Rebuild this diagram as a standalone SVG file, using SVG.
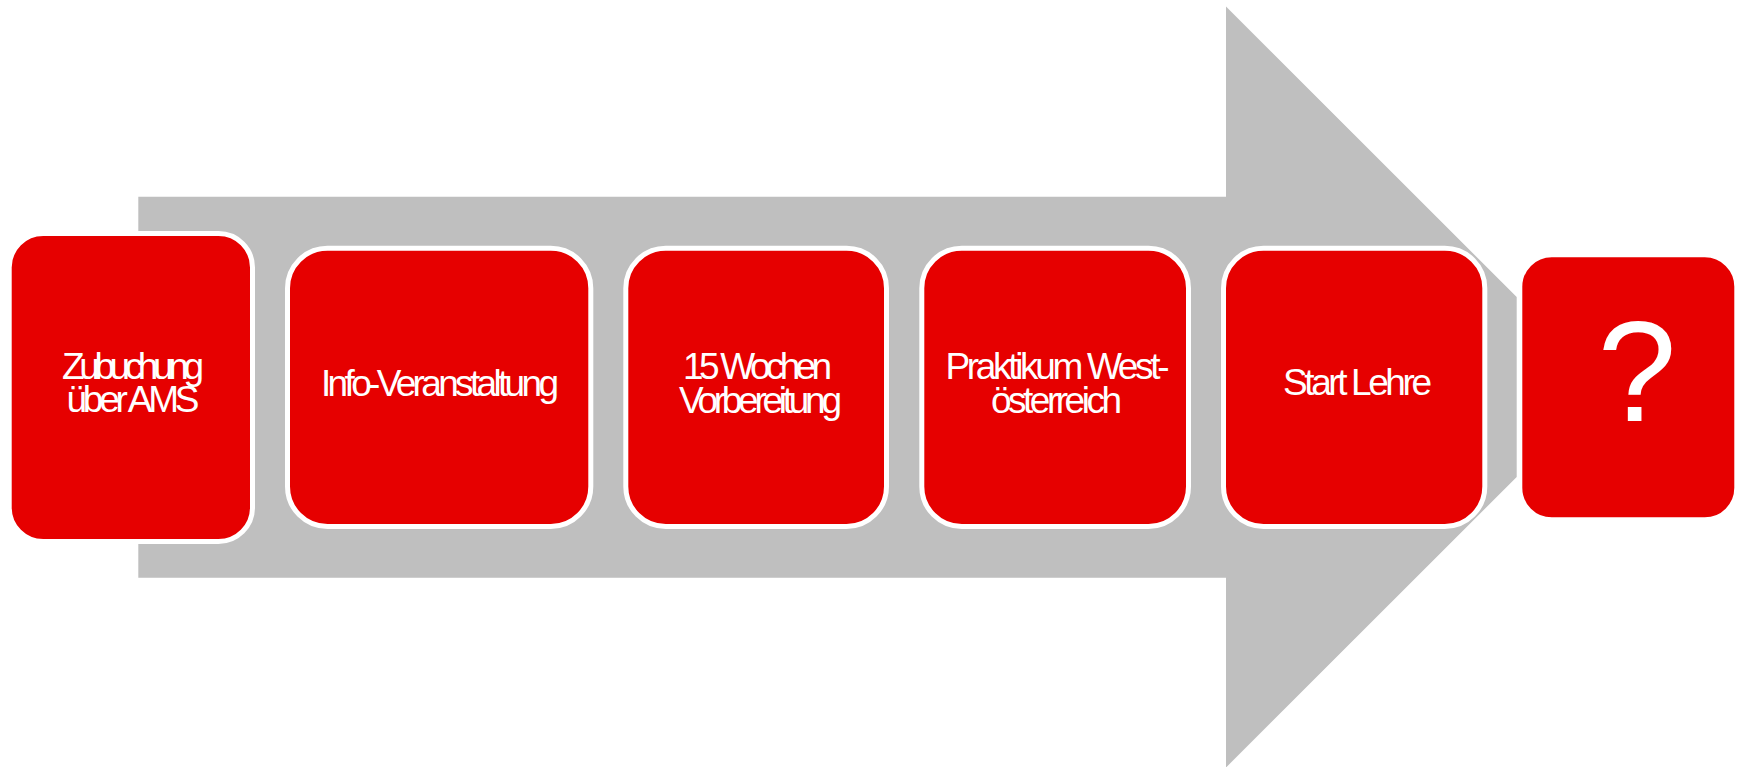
<svg xmlns="http://www.w3.org/2000/svg" width="1741" height="767" viewBox="0 0 1741 767">
<style>
.box{fill:#E60000;stroke:#FFFFFF;stroke-width:5}
.lbl{font-family:"Liberation Sans",Arial,sans-serif;font-size:37px;fill:#FFFFFF}
.q{font-family:"Liberation Sans",Arial,sans-serif;font-size:142px;fill:#FFFFFF}
</style>
<rect width="1741" height="767" fill="#FFFFFF"/>
<g id="arrow">
<polygon points="138.3,196.7 1226,196.7 1226,6.5 1516.7,297 1516.7,477 1226,767.5 1226,577.7 138.3,577.7" fill="#BFBFBF"/>
</g>
<g id="connectors"></g>
<g id="node1">
<rect class="box" x="9.2" y="233.5" width="243.3" height="308" rx="34"/>
<text class="lbl" x="62" y="379.3" textLength="142" lengthAdjust="spacing">Zubuchung</text>
<text class="lbl" x="66.5" y="412.3" textLength="133" lengthAdjust="spacing">über AMS</text>
</g>
<g id="node2">
<rect class="box" x="287.5" y="248.2" width="303.3" height="278.3" rx="40"/>
<text class="lbl" x="321" y="395.7" textLength="238" lengthAdjust="spacing">Info-Veranstaltung</text>
</g>
<g id="node3">
<rect class="box" x="625.8" y="248.2" width="260.7" height="278.3" rx="40"/>
<text class="lbl" x="683" y="379" textLength="149" lengthAdjust="spacing">15 Wochen</text>
<text class="lbl" x="679" y="412.7" textLength="163" lengthAdjust="spacing">Vorbereitung</text>
</g>
<g id="node4">
<rect class="box" x="921.8" y="248.2" width="266.7" height="278.3" rx="40"/>
<text class="lbl" x="945.5" y="379" textLength="224" lengthAdjust="spacing">Praktikum West-</text>
<text class="lbl" x="991" y="412.7" textLength="131" lengthAdjust="spacing">österreich</text>
</g>
<g id="node5">
<rect class="box" x="1223.5" y="248.2" width="261.3" height="278.3" rx="40"/>
<text class="lbl" x="1283" y="395" textLength="149" lengthAdjust="spacing">Start Lehre</text>
</g>
<g id="node6">
<rect class="box" x="1519.8" y="254.8" width="217" height="265" rx="32"/>
<text class="q" x="1637" y="420.7" text-anchor="middle">?</text>
</g>
</svg>
